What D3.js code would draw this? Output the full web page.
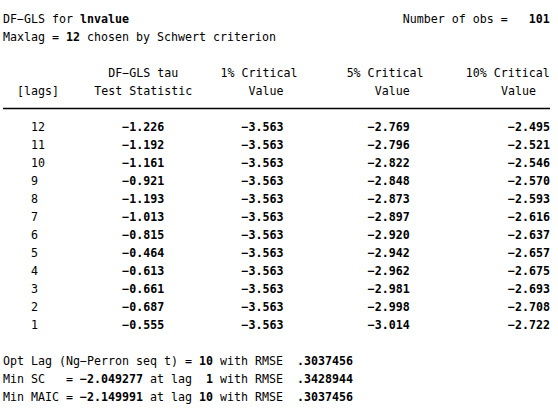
<!DOCTYPE html>
<html lang="en">
<head>
<meta charset="utf-8">
<script src="https://cdn.jsdelivr.net/npm/d3@7"></script>
<style>
  html, body { margin: 0; padding: 0; background: #fff; }
  svg text { font-family: "DejaVu Sans Mono", monospace; font-size: 11.64px; fill: #000; white-space: pre; }
  .b { font-weight: bold; }
</style>
</head>
<body>
<script>
// dfgls output values
var lags  = [12, 11, 10, 9, 8, 7, 6, 5, 4, 3, 2, 1];
var tau   = [-1.226, -1.192, -1.161, -0.921, -1.193, -1.013, -0.815, -0.464, -0.613, -0.661, -0.687, -0.555];
var cv1   = [-3.563, -3.563, -3.563, -3.563, -3.563, -3.563, -3.563, -3.563, -3.563, -3.563, -3.563, -3.563];
var cv5   = [-2.769, -2.796, -2.822, -2.848, -2.873, -2.897, -2.920, -2.942, -2.962, -2.981, -2.998, -3.014];
var cv10  = [-2.495, -2.521, -2.546, -2.570, -2.593, -2.616, -2.637, -2.657, -2.675, -2.693, -2.708, -2.722];

var header1 = ["DF\u2212GLS tau", "1% Critical", "5% Critical", "10% Critical"];
var header2 = ["[lags]", "Test Statistic", "Value", "Value", "Value"];

// text lines made of [text, bold] pieces
var topLines = [
  [["DF\u2212GLS for ", 0], ["lnvalue", 1]],
  [["Maxlag = ", 0], ["12", 1], [" chosen by Schwert criterion", 0]]
];
var nobs = [["Number of obs =   ", 0], ["101", 1]];
var bottomLines = [
  [["Opt Lag (Ng\u2212Perron seq t) = ", 0], ["10", 1], [" with RMSE  ", 0], [".3037456", 1]],
  [["Min SC   = ", 0], ["\u22122.049277", 1], [" at lag  ", 0], ["1", 1], [" with RMSE  ", 0], [".3428944", 1]],
  [["Min MAIC = ", 0], ["\u22122.149991", 1], [" at lag ", 0], ["10", 1], [" with RMSE  ", 0], [".3037456", 1]]
];

var width = 558, height = 408;
var svg = d3.select("body").append("svg")
    .attr("width", width)
    .attr("height", height);

// column -> x, line -> baseline y
var col = d3.scaleLinear().domain([0, 78]).range([3, 550]);
var line = d3.scaleLinear().domain([0, 1]).range([22.5, 40.5]);

function writeLine(pieces, c, ln) {
  var t = svg.append("text")
      .attr("x", col(c))
      .attr("y", line(ln));
  t.selectAll("tspan").data(pieces).enter().append("tspan")
      .attr("class", function (d) { return d[1] ? "b" : null; })
      .text(function (d) { return d[0]; });
}

topLines.forEach(function (p, i) { writeLine(p, 0, i); });
writeLine(nobs, 57, 0);

// table headers
var h1cols = [15, 31, 49, 66];
header1.forEach(function (h, i) {
  svg.append("text").attr("x", col(h1cols[i])).attr("y", line(3)).text(h);
});
var h2cols = [2, 13, 35, 53, 71];
header2.forEach(function (h, i) {
  svg.append("text").attr("x", col(h2cols[i])).attr("y", line(4)).text(h);
});

svg.append("line")
    .attr("x1", col(0)).attr("x2", col(78))
    .attr("y1", 108.5).attr("y2", 108.5)
    .attr("stroke", "#000")
    .attr("stroke-width", 1.4);

// table body
var fmt = d3.format(".3f");
var series = [tau, cv1, cv5, cv10];
var ends = [23, 40, 58, 78];

var rows = svg.selectAll("g.row").data(lags).enter().append("g")
    .attr("class", "row");

rows.append("text")
    .attr("x", col(4))
    .attr("y", function (d, i) { return line(6 + i); })
    .text(function (d) { return d; });

series.forEach(function (s, k) {
  rows.append("text")
      .attr("class", "b")
      .attr("text-anchor", "end")
      .attr("x", col(ends[k]))
      .attr("y", function (d, i) { return line(6 + i); })
      .text(function (d, i) { return fmt(s[i]); });
});

bottomLines.forEach(function (p, i) { writeLine(p, 0, 19 + i); });
</script>
</body>
</html>
